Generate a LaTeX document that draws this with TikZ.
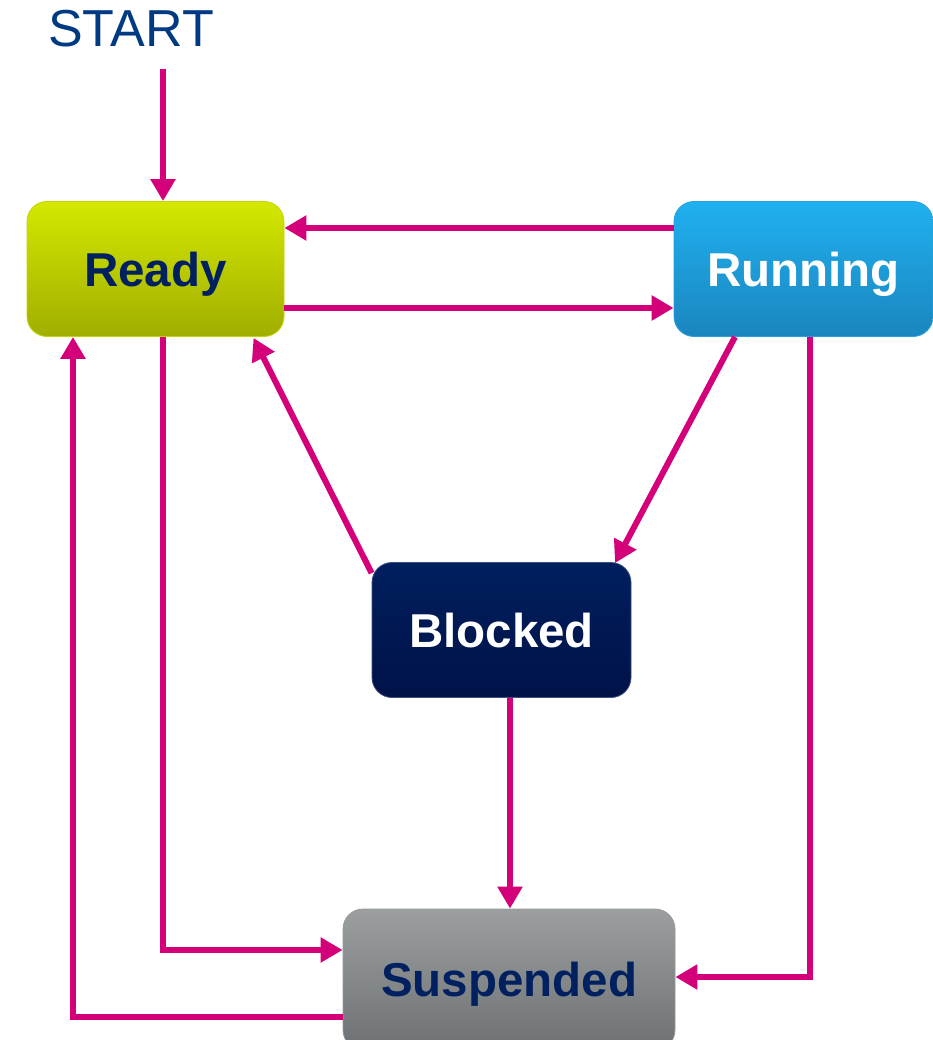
\documentclass[tikz,border=0pt]{standalone}
\usepackage{fontspec}
\setmainfont{Liberation Sans}
\usetikzlibrary{arrows.meta}
\definecolor{flow}{HTML}{D4007A}
\definecolor{navy}{HTML}{002060}
\definecolor{startblue}{HTML}{003A82}
\begin{document}
\begin{tikzpicture}[x=1pt,y=-1pt,
  state/.style={rectangle, rounded corners=20pt, minimum height=135pt,
    inner sep=0pt, text depth=0pt, line width=0.8pt,
    font=\fontsize{47.5}{47.5}\selectfont\bfseries},
  arr/.style={draw=flow, line width=6pt, -{Triangle[length=22pt,width=24pt]}}]
\useasboundingbox (0,0) rectangle (933,1040);

% states
\node[state, minimum width=257pt, draw={rgb,255:red,196;green,212;blue,0},
      top color={rgb,255:red,212;green,232;blue,0}, bottom color={rgb,255:red,160;green,174;blue,0}, text=navy]
      (ready) at (155.5,269) {Ready};
\node[state, minimum width=259pt, draw={rgb,255:red,40;green,160;blue,220},
      top color={rgb,255:red,32;green,176;blue,240}, bottom color={rgb,255:red,26;green,134;blue,190}, text=white]
      (running) at (803.5,269) {Running};
\node[state, minimum width=259pt, draw={rgb,255:red,60;green,80;blue,130},
      top color={rgb,255:red,0;green,31;blue,94}, bottom color={rgb,255:red,0;green,18;blue,72}, text=white]
      (blocked) at (501.5,630) {Blocked};
\node[state, minimum width=332pt, minimum height=141pt, draw={rgb,255:red,150;green,152;blue,154},
      top color={rgb,255:red,156;green,159;blue,160}, bottom color={rgb,255:red,110;green,113;blue,115}, text=navy]
      (suspended) at (509,979.5) {Suspended};

% start label
\node[inner sep=0pt, text=startblue, font=\fontsize{52}{52}\selectfont, anchor=base]
      (start) at (131,47) {START};

% transitions
\draw[arr] ([xshift=32pt,yshift=-21pt]start.south) -- ([xshift=7.5pt]ready.north);
\draw[arr] ([yshift=41pt]running.west) -- ([yshift=41pt]ready.east);
\draw[arr] ([yshift=-39pt]ready.east) -- ([yshift=-39pt]running.west);
\draw[arr] ([xshift=-68.5pt]running.south) -- ([xshift=113.5pt,yshift=-1pt]blocked.north);
\draw[arr] ([yshift=-11pt]blocked.north west) -- ([xshift=98pt,yshift=-1pt]ready.south);
\draw[arr] ([xshift=8.5pt]blocked.south) -- ([xshift=1pt]suspended.north);
\draw[arr] ([xshift=7.5pt]ready.south) |- ([yshift=29.5pt]suspended.west);
\draw[arr] ([xshift=6.5pt]running.south) |- ([yshift=2.5pt]suspended.east);
\draw[arr] ([yshift=-37.5pt]suspended.west) -| ([xshift=-82.5pt]ready.south);
\end{tikzpicture}
\end{document}
